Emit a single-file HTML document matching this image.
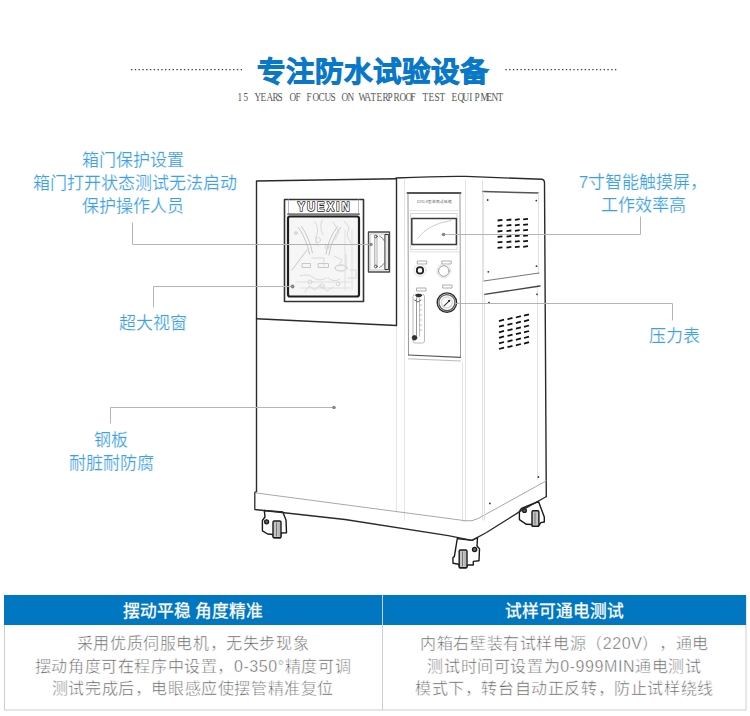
<!DOCTYPE html>
<html lang="zh-CN">
<head>
<meta charset="utf-8">
<style>
html,body{margin:0;padding:0;background:#fff;}
body{width:750px;height:716px;position:relative;overflow:hidden;font-family:"Liberation Sans",sans-serif;}
.a{position:absolute;white-space:nowrap;}
.title{left:-2px;width:750px;top:51.5px;-webkit-text-stroke:0.9px #0a78c8;text-align:center;font-size:28.5px;font-weight:700;color:#0a78c8;line-height:40px;}
.sub{font-family:"Liberation Serif",serif;font-size:11.5px;color:#555;top:90px;left:237px;line-height:14px;}
.sub i{font-style:normal;display:inline-block;width:5.79px;text-align:center;transform:scaleX(0.8);}
.lbl{color:#3aa0ea;-webkit-text-stroke:0.18px #fff;font-size:17px;line-height:23px;text-align:center;}
.box{position:absolute;left:4px;top:595px;width:742px;height:115px;}
.hd{position:absolute;top:595px;height:30px;background:#0077c0;color:#fff;font-size:16.7px;font-weight:400;line-height:34px;-webkit-text-stroke:0.3px #fff;text-align:center;}
.bd{position:absolute;top:633px;color:#5e5e5e;font-size:16px;letter-spacing:0.6px;-webkit-text-stroke:0.45px #fff;line-height:22.6px;text-align:center;}
svg{position:absolute;left:0;top:0;}
.yx{left:297px;top:199px;font-size:12px;font-weight:700;letter-spacing:1.2px;color:#fff;-webkit-text-stroke:1px #222;line-height:14px;}
html{text-spacing-trim:space-all;}
</style>
</head>
<body>
<svg width="750" height="716" viewBox="0 0 750 716" id="draw">
  <!-- dotted lines -->
  <line x1="131" y1="69.7" x2="243" y2="69.7" stroke="#444" stroke-width="1.3" stroke-dasharray="1.4 2.38"/>
  <line x1="505.3" y1="69.7" x2="616.5" y2="69.7" stroke="#444" stroke-width="1.3" stroke-dasharray="1.4 2.38"/>
  <!-- bottom boxes -->
  <rect x="4.5" y="595.5" width="741.5" height="114.5" fill="none" stroke="#cfcfcf" stroke-width="1"/>
  <rect x="4" y="595" width="742" height="30" fill="#0077c0"/>
  <line x1="382.5" y1="595" x2="382.5" y2="710" stroke="#cfcfcf" stroke-width="1"/>

  <g id="machine" fill="none" stroke-linecap="round" stroke-linejoin="round">
    <!-- faint vertical column lines -->
    <g stroke="#e4e4e4" stroke-width="1">
      <line x1="404.5" y1="180" x2="404.5" y2="520"/>
      <line x1="462.5" y1="362" x2="462.5" y2="522"/>
      <line x1="465.5" y1="180" x2="465.5" y2="522"/>
      <line x1="482.5" y1="180" x2="482.5" y2="520"/>
      <line x1="396.5" y1="325" x2="396.5" y2="512"/>
      <line x1="537.5" y1="285" x2="537.5" y2="480"/>
    </g>
    <!-- main outline -->
    <g stroke="#2a2a2a" stroke-width="1.4">
      <path d="M256.5,491.5 V181 L396,178.8"/>
      <path d="M396,178 Q440,176 466,176.4 L542,179.3 Q544.3,179.8 544.5,182.5 L546.3,496.5"/>
      <line x1="396.5" y1="179" x2="396.5" y2="325"/>
      <line x1="256.5" y1="318.8" x2="396.5" y2="325.5"/>
    </g>
    <!-- base plinth -->
    
    <path d="M256.5,493 L466,520.8 Q472,521.6 478,518.6 L546,481" stroke="#a8a8a8" stroke-width="1"/>
    <!-- window -->
    <rect x="284.5" y="199.5" width="79" height="102" stroke="#333" stroke-width="1.6"/>
    <line x1="288.5" y1="200" x2="288.5" y2="214" stroke="#bbb" stroke-width="1"/>
    <line x1="358.5" y1="200" x2="358.5" y2="214" stroke="#bbb" stroke-width="1"/>
    <line x1="288" y1="214.3" x2="359" y2="214.3" stroke="#7a7a7a" stroke-width="2"/>
    <rect x="288" y="216.5" width="71" height="80" rx="2" fill="#f6f6f6" stroke="#1e1e1e" stroke-width="2.2"/>
    <g stroke="#c8c8c8" stroke-width="1">
      <path d="M298.5,227.5 Q306,238 309.5,254"/>
      <path d="M301.5,226.5 Q309,237 312.5,253"/>
      <path d="M340.5,227.5 Q331,240 329,255"/>
      <path d="M337.5,226.5 Q328,239 326,254"/>
      <path d="M292,270 L307,250"/>
      <rect x="302.5" y="263.5" width="8" height="4"/>
      <rect x="318.5" y="263.5" width="10" height="4"/>
      <ellipse cx="341" cy="268" rx="6" ry="3"/>
      <path d="M300,288 H350 M296,282 H352 M345,230 V290 M352,230 V290" stroke="#e0e0e0"/>
    </g>
    <text transform="translate(297.4,211.3) scale(0.86,1)" x="0" y="0" font-family="Liberation Sans" font-weight="700" font-size="13" textLength="60.6" lengthAdjust="spacing" fill="#fff" stroke="#1a1a1a" stroke-width="1.6" paint-order="stroke">YUEXIN</text>
    <g stroke="#d2d2d2" stroke-width="0.8" fill="none">
      <path d="M315,222 q4,6 2,12 q-3,6 1,12 M322,220 q-3,8 1,15 M333,222 l6,10 l-4,8 M344,221 l5,6 l-2,9 l4,7"/>
      <circle cx="318" cy="240" r="2.5"/><circle cx="327" cy="247" r="2"/><circle cx="296" cy="233" r="1.5" fill="#ddd"/>
      <path d="M312,258 h12 v8 M334,256 l8,4 l-3,6 M346,255 v12 M350,270 h6 v8 h-8"/>
      <path d="M300,276 q8,-3 14,2 q6,4 12,0 M328,278 q6,5 12,1 M305,292 l4,-6 l6,4 l5,-5 l7,6 l6,-4"/>
      <circle cx="310" cy="282" r="2"/><circle cx="322" cy="286" r="2.2"/><circle cx="338" cy="284" r="1.8"/>
    </g>
    <!-- handle -->
    <rect x="368.5" y="232" width="21" height="40" fill="#fafafa" stroke="#4a4a4a" stroke-width="1.4"/>
    <rect x="370.5" y="234" width="17" height="36" stroke="#bbb" stroke-width="0.8"/>
    <rect x="385.3" y="234.5" width="3.4" height="35" fill="#e8e8e8" stroke="#333" stroke-width="1"/>
    <line x1="374.8" y1="238" x2="374.8" y2="265" stroke="#999" stroke-width="0.9"/><line x1="377" y1="238" x2="377" y2="265" stroke="#aaa" stroke-width="0.9"/>
    <circle cx="375.8" cy="236.5" r="1.4" stroke="#444" stroke-width="0.9"/>
    <circle cx="375.8" cy="266.5" r="1.4" stroke="#444" stroke-width="0.9"/>
    <path d="M379.5,236 Q383,238 384.5,241 M379.5,267.5 Q383,265.5 384.5,263" stroke="#666" stroke-width="0.8"/>
    <!-- control panel -->
    <line x1="407.5" y1="193" x2="460.5" y2="193" stroke="#555" stroke-width="2"/>
    <line x1="408" y1="194" x2="408.5" y2="355" stroke="#999" stroke-width="1"/>
    <line x1="460" y1="194" x2="460.5" y2="357" stroke="#999" stroke-width="1"/>
    <line x1="408.5" y1="355" x2="460.5" y2="357.3" stroke="#555" stroke-width="1.2"/>
    <line x1="408.5" y1="358.8" x2="460.5" y2="361" stroke="#bbb" stroke-width="1"/>
    <line x1="409" y1="210.5" x2="458" y2="210.5" stroke="#e6e6e6" stroke-width="1"/>
    <text x="417" y="203" font-size="3.6" fill="#555" stroke="none" font-family="Liberation Sans">DYD-II型淋雨试验箱</text>
    <rect x="411" y="213.5" width="46" height="36" stroke="#d6d6d6" stroke-width="1"/>
    <rect x="411.8" y="218.5" width="44.6" height="26" stroke="#3a3a3a" stroke-width="1.5"/>
    <path d="M418,238 Q428,224 451,220.5" stroke="#ccc" stroke-width="1"/>
    <line x1="409" y1="251.8" x2="459" y2="251.8" stroke="#e2e2e2" stroke-width="1"/>
    <g stroke="#999" stroke-width="0.8">
      <rect x="417.7" y="261" width="9" height="3"/>
      <rect x="442.2" y="261" width="9" height="3"/>
      <rect x="443" y="285" width="9" height="3"/>
      <rect x="417" y="288" width="9" height="3"/>
    </g>
    <circle cx="420" cy="270.4" r="6" stroke="#ddd" stroke-width="1"/>
    <circle cx="420" cy="270.4" r="3.2" stroke="#222" stroke-width="1.8"/>
    <circle cx="443.8" cy="271" r="7" stroke="#e2e2e2" stroke-width="1"/>
    <circle cx="443.8" cy="271" r="5.3" stroke="#999" stroke-width="1"/>
    <circle cx="446.9" cy="302.6" r="9.7" stroke="#2a2a2a" stroke-width="1.4"/>
    <circle cx="446.9" cy="302.6" r="8" stroke="#555" stroke-width="1.1"/>
    <path d="M443.3,306.7 L449.8,300.3" stroke="#333" stroke-width="1.1"/><circle cx="449" cy="301" r="1" fill="#222" stroke="none"/><circle cx="446.9" cy="302.6" r="5.5" stroke="#d8d8d8" stroke-width="1.5"/>
    <rect x="413" y="294.5" width="11.5" height="48.5" rx="2" stroke="#bbb" stroke-width="1"/>
    <line x1="416.5" y1="298" x2="416.5" y2="336" stroke="#999" stroke-width="1"/>
    <line x1="419.5" y1="298" x2="419.5" y2="336" stroke="#bbb" stroke-width="1"/>
    <ellipse cx="418.7" cy="295.5" rx="3" ry="1.4" fill="#333" stroke="#222" stroke-width="0.8"/><path d="M414.5,300 L418,302 L421,300" stroke="#666" stroke-width="1"/><path d="M420,305 h1.5 M420,310 h1.5 M420,315 h1.5 M420,320 h1.5 M420,325 h1.5 M420,330 h1.5" stroke="#aaa" stroke-width="0.8"/>
    <circle cx="414.5" cy="337.8" r="2.3" fill="#333" stroke="#222" stroke-width="0.8"/>
    <!-- right side upper panel -->
    <line x1="483" y1="191.5" x2="538.5" y2="193" stroke="#555" stroke-width="1.6"/>
    <line x1="483.5" y1="192" x2="483.5" y2="280" stroke="#e2e2e2" stroke-width="1"/>
    <line x1="538.5" y1="193" x2="538.5" y2="274" stroke="#e2e2e2" stroke-width="1"/>
    <line x1="483.8" y1="281" x2="539" y2="273" stroke="#777" stroke-width="1"/>
    <line x1="484.6" y1="294.3" x2="540" y2="286" stroke="#444" stroke-width="1.3"/>
    <line x1="484.5" y1="295" x2="484.5" y2="520" stroke="#e0e0e0" stroke-width="1"/>
    <g fill="#333" stroke="none">
      <circle cx="487.7" cy="200" r="0.9"/><circle cx="536.3" cy="200.6" r="0.9"/>
      <circle cx="488.3" cy="271.8" r="0.9"/><circle cx="536.5" cy="266.2" r="0.9"/>
      <circle cx="537" cy="294.3" r="0.9"/><circle cx="489" cy="302.6" r="0.9"/>
      <circle cx="538.4" cy="477" r="0.9"/><circle cx="489.9" cy="503.4" r="0.9"/>
    </g>
    <g id="vent1" stroke="#111" stroke-width="1.8" stroke-linecap="butt"><line x1="497.6" y1="220.5" x2="502.4" y2="219.9"/><line x1="497.6" y1="226.0" x2="502.4" y2="225.4"/><line x1="497.6" y1="231.5" x2="502.4" y2="230.9"/><line x1="497.6" y1="236.9" x2="502.4" y2="236.3"/><line x1="497.6" y1="242.4" x2="502.4" y2="241.8"/><line x1="497.6" y1="247.9" x2="502.4" y2="247.3"/><line x1="506.5" y1="220.2" x2="511.3" y2="219.5"/><line x1="506.5" y1="225.6" x2="511.3" y2="225.0"/><line x1="506.5" y1="231.1" x2="511.3" y2="230.5"/><line x1="506.5" y1="236.6" x2="511.3" y2="236.0"/><line x1="506.5" y1="242.1" x2="511.3" y2="241.5"/><line x1="506.5" y1="247.6" x2="511.3" y2="246.9"/><line x1="514.9" y1="219.8" x2="519.7" y2="219.2"/><line x1="514.9" y1="225.3" x2="519.7" y2="224.7"/><line x1="514.9" y1="230.8" x2="519.7" y2="230.2"/><line x1="514.9" y1="236.2" x2="519.7" y2="235.6"/><line x1="514.9" y1="241.7" x2="519.7" y2="241.1"/><line x1="514.9" y1="247.2" x2="519.7" y2="246.6"/><line x1="523.2" y1="219.4" x2="528.0" y2="218.8"/><line x1="523.2" y1="224.9" x2="528.0" y2="224.3"/><line x1="523.2" y1="230.4" x2="528.0" y2="229.8"/><line x1="523.2" y1="235.9" x2="528.0" y2="235.3"/><line x1="523.2" y1="241.4" x2="528.0" y2="240.8"/><line x1="523.2" y1="246.8" x2="528.0" y2="246.2"/></g>
    <g id="vent2" stroke="#111" stroke-width="1.8" stroke-linecap="butt"><line x1="499.0" y1="321.1" x2="504.0" y2="319.7"/><line x1="499.0" y1="326.7" x2="504.0" y2="325.3"/><line x1="499.0" y1="332.3" x2="504.0" y2="330.9"/><line x1="499.0" y1="337.8" x2="504.0" y2="336.4"/><line x1="499.0" y1="343.4" x2="504.0" y2="342.0"/><line x1="499.0" y1="349.0" x2="504.0" y2="347.6"/><line x1="507.5" y1="319.3" x2="512.5" y2="317.9"/><line x1="507.5" y1="324.9" x2="512.5" y2="323.5"/><line x1="507.5" y1="330.5" x2="512.5" y2="329.1"/><line x1="507.5" y1="336.0" x2="512.5" y2="334.6"/><line x1="507.5" y1="341.6" x2="512.5" y2="340.2"/><line x1="507.5" y1="347.2" x2="512.5" y2="345.8"/><line x1="515.9" y1="317.5" x2="520.9" y2="316.1"/><line x1="515.9" y1="323.1" x2="520.9" y2="321.7"/><line x1="515.9" y1="328.7" x2="520.9" y2="327.3"/><line x1="515.9" y1="334.2" x2="520.9" y2="332.8"/><line x1="515.9" y1="339.8" x2="520.9" y2="338.4"/><line x1="515.9" y1="345.4" x2="520.9" y2="344.0"/><line x1="524.0" y1="315.7" x2="529.0" y2="314.3"/><line x1="524.0" y1="321.3" x2="529.0" y2="319.9"/><line x1="524.0" y1="326.9" x2="529.0" y2="325.5"/><line x1="524.0" y1="332.4" x2="529.0" y2="331.0"/><line x1="524.0" y1="338.0" x2="529.0" y2="336.6"/><line x1="524.0" y1="343.6" x2="529.0" y2="342.2"/></g>
    <!-- casters -->
    <g stroke="#1a1a1a" stroke-width="1.4" fill="#fff">
      <path d="M264.3,510.5 L265,517 L262.4,520.5 L262.4,530.8 L267.7,534 L273,534.5 L273.5,537.5 L280.5,537.7 L281,533 L286.5,532.7 L286,520 L282.8,512 Z"/>
      <rect x="273" y="521" width="8" height="16.7" rx="1.2" fill="#c4c4c4"/>
      <line x1="276.5" y1="523" x2="276.5" y2="536" stroke="#777" stroke-width="1"/>
      <line x1="279" y1="523" x2="279" y2="536" stroke="#aaa" stroke-width="1"/>
      <circle cx="266.6" cy="521.8" r="2" fill="#666" stroke-width="1.3"/>
      <path d="M457.3,538.5 L454.4,556.4 L452.9,557.7 L453,563.3 L458.8,564.3 L459.5,567.7 L466.5,567.7 L467.6,564.9 L473.3,565 L473.3,561.4 L479,560.8 L479.5,548.9 L477,546 L477.5,537.5 L472,540.4 Z"/>
      <rect x="459.2" y="550" width="7.8" height="17.7" rx="1.2" fill="#c4c4c4"/>
      <line x1="462.5" y1="552" x2="462.5" y2="566" stroke="#777" stroke-width="1"/>
      <line x1="465" y1="552" x2="465" y2="566" stroke="#aaa" stroke-width="1"/>
      <circle cx="474.6" cy="549.5" r="2.1" fill="#666" stroke-width="1.3"/>
      <path d="M521.5,508.5 L519.4,511.4 L519.4,519.6 L526.4,524.3 L532,524.5 L532.5,526.2 L538.5,526.2 L540.8,522.6 L544.3,522 L544.3,517 L538.5,501.5 Z"/>
      <rect x="532" y="510.8" width="6.9" height="15.4" rx="1.2" fill="#c4c4c4"/>
      <line x1="535" y1="513" x2="535" y2="524" stroke="#777" stroke-width="1"/>
      <circle cx="524.5" cy="510.5" r="1.9" fill="#666" stroke-width="1.3"/>
    </g>
    <path d="M256.5,491.5 L254.8,492.5 V509.5 L345,519.5 L448.3,535.6 L472,540.4 L486.5,532.5 L520,511.4 L546.5,496.5" stroke="#2a2a2a" stroke-width="1.3"/>
    <!-- connector lines -->
    <g stroke="#b4b4b4" stroke-width="1">
      <path d="M132.5,223 V244.5 H371"/>
      <path d="M153.5,307 V286.5 H292.6"/>
      <path d="M110.5,423 V407.5 H334"/>
      <path d="M640.5,217 V234.5 H443.5"/>
      <path d="M672.5,320 V303.5 H456.5"/>
    </g>
    <g fill="#888" stroke="none">
      <circle cx="371" cy="244.5" r="1.7"/>
      <circle cx="292.6" cy="286.5" r="1.9"/>
      <circle cx="334" cy="407.5" r="1.8"/>
      <circle cx="443.5" cy="234.5" r="1.8"/>
    </g>
  </g>
</svg>

<div class="a title">专注防水试验设备</div>
<div class="a sub"><i>1</i><i>5</i><i>&nbsp;</i><i>Y</i><i>E</i><i>A</i><i>R</i><i>S</i><i>&nbsp;</i><i>O</i><i>F</i><i>&nbsp;</i><i>F</i><i>O</i><i>C</i><i>U</i><i>S</i><i>&nbsp;</i><i>O</i><i>N</i><i>&nbsp;</i><i>W</i><i>A</i><i>T</i><i>E</i><i>R</i><i>P</i><i>R</i><i>O</i><i>O</i><i>F</i><i>&nbsp;</i><i>T</i><i>E</i><i>S</i><i>T</i><i>&nbsp;</i><i>E</i><i>Q</i><i>U</i><i>I</i><i>P</i><i>M</i><i>E</i><i>N</i><i>T</i></div>

<div class="a lbl" style="left:33px;width:200px;top:149px;">箱门保护设置<br>箱门打开状态测试无法启动<br>保护操作人员</div>
<div class="a lbl" style="left:103px;width:100px;top:312px;">超大视窗</div>
<div class="a lbl" style="left:61px;width:100px;top:429px;">钢板<br>耐脏耐防腐</div>
<div class="a lbl" style="left:573px;width:140px;top:171px;">7寸智能触摸屏，<br>工作效率高</div>
<div class="a lbl" style="left:624px;width:100px;top:325px;">压力表</div>

<div class="a hd" style="left:4px;width:378px;">摆动平稳 角度精准</div>
<div class="a hd" style="left:383px;width:363px;">试样可通电测试</div>
<div class="a bd" style="left:4px;width:378px;">采用优质伺服电机，无失步现象<br>摆动角度可在程序中设置，0-350°精度可调<br>测试完成后，电眼感应使摆管精准复位</div>
<div class="a bd" style="left:383px;width:363px;">内箱右壁装有试样电源（220V），通电<br>测试时间可设置为0-999MIN通电测试<br>模式下，转台自动正反转，防止试样绕线</div>
</body>
</html>
